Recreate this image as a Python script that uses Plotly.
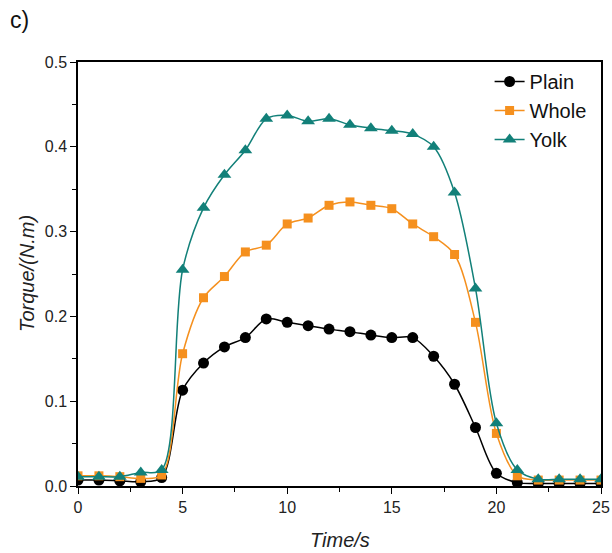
import plotly.graph_objects as go

time_s = list(range(0, 26))
plain = [0.007, 0.007, 0.006, 0.005, 0.010, 0.113, 0.145, 0.164, 0.175, 0.197,
         0.193, 0.189, 0.185, 0.182, 0.178, 0.175, 0.175, 0.153, 0.120, 0.069,
         0.015, 0.004, 0.003, 0.003, 0.003, 0.003]
whole = [0.012, 0.012, 0.011, 0.009, 0.013, 0.156, 0.222, 0.247, 0.276, 0.284,
         0.309, 0.316, 0.331, 0.335, 0.331, 0.327, 0.309, 0.294, 0.273, 0.193,
         0.062, 0.012, 0.007, 0.007, 0.007, 0.007]
yolk = [0.011, 0.011, 0.011, 0.016, 0.019, 0.255, 0.328, 0.367, 0.396, 0.433,
        0.437, 0.430, 0.433, 0.426, 0.422, 0.419, 0.415, 0.400, 0.346, 0.233,
        0.074, 0.019, 0.008, 0.008, 0.008, 0.008]

series_names = ["Plain", "Whole", "Yolk"]
series_vals = [plain, whole, yolk]
colors = ["#000000", "#F5901E", "#128079"]
symbols = ["circle", "square", "triangle-up"]
sizes = [11, 9, 12]

FONT = "Liberation Sans, Arial, sans-serif"

fig = go.Figure()
for name, vals, c, s, sz in zip(series_names, series_vals, colors, symbols, sizes):
    fig.add_trace(go.Scatter(
        x=time_s, y=vals, name=name, mode="lines+markers",
        line=dict(color=c, width=1.5, shape="spline", smoothing=0.9),
        marker=dict(color=c, symbol=s, size=sz),
    ))

axis_common = dict(
    showline=True, linecolor="black", linewidth=1.5, mirror=True,
    ticks="outside", ticklen=6, tickwidth=1.3, tickcolor="black",
    showgrid=False, zeroline=False, automargin=False,
    tickfont=dict(family=FONT, size=16, color="#222"),
)

fig.update_xaxes(range=[0, 25], dtick=5, tick0=0,
                 minor=dict(ticks="outside", ticklen=4, dtick=2.5, tickcolor="black", tickwidth=1.2),
                 **axis_common)
fig.update_yaxes(range=[0, 0.5], dtick=0.1, tick0=0, tickformat=".1f",
                 minor=dict(ticks="outside", ticklen=4, dtick=0.05, tickcolor="black", tickwidth=1.2),
                 **axis_common)

fig.update_layout(
    width=612, height=553,
    margin=dict(l=78, r=11, t=62, b=67),
    plot_bgcolor="white", paper_bgcolor="white",
    font=dict(family=FONT, color="#222"),
    legend=dict(x=0.787, y=1.0, xanchor="left", yanchor="top",
                bgcolor="rgba(0,0,0,0)", font=dict(family=FONT, size=20, color="#111"),
                tracegroupgap=0),
    annotations=[
        dict(text="c)", x=0, y=1, xref="paper", yref="paper",
             xanchor="center", yanchor="middle",
             xshift=-59, yshift=42, showarrow=False,
             font=dict(family=FONT, size=23, color="#111")),
        dict(text="<i>Time/s</i>", x=0.5, y=0, xref="paper", yref="paper",
             xanchor="center", yanchor="middle",
             yshift=-54, showarrow=False,
             font=dict(family=FONT, size=20, color="#222")),
        dict(text="<i>Torque/(N.m)</i>", x=0, y=0.5, xref="paper", yref="paper",
             xanchor="center", yanchor="middle",
             xshift=-51, textangle=-90, showarrow=False,
             font=dict(family=FONT, size=20, color="#222")),
    ],
)

fig.write_html("out.html",
               config={"displayModeBar": False},
               post_script="document.body.style.margin='0';document.body.style.overflow='hidden';")
